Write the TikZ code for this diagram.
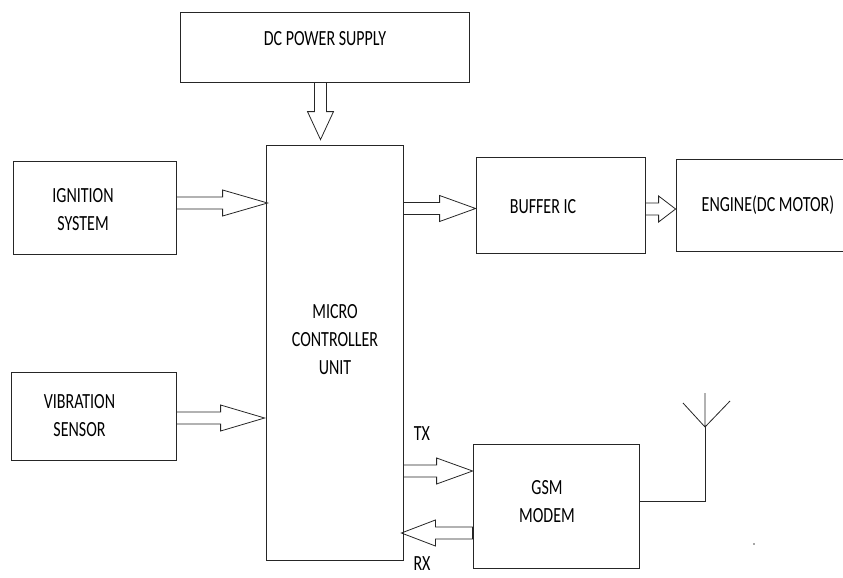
\documentclass[tikz,border=0pt]{standalone}
\usepackage{fontspec}
\setmainfont{Carlito}
\usepackage{graphicx}
\usetikzlibrary{positioning, calc}

\newcommand{\tall}[1]{\scalebox{1}[1.35]{#1}}
% hollow block arrow, head length in optional arg
\newcommand{\blockarrow}[3][40]{%
  \draw[blockarr] let \p1=(#2), \p2=(#3),
    \n1={veclen(\x2-\x1,\y2-\y1)}, \n2={atan2(\y2-\y1,\x2-\x1)} in
    [shift={(\p1)}, rotate=\n2]
    (0pt,6pt) -- (\n1-#1pt,6pt) -- (\n1-#1pt,13pt) -- (\n1,0pt)
    -- (\n1-#1pt,-13pt) -- (\n1-#1pt,-6pt) -- (0pt,-6pt) -- cycle;
}

\begin{document}
\begin{tikzpicture}[x=1pt, y=-1pt,
  blk/.style={draw=black!85, line width=0.8pt},
  txt/.style={font=\fontsize{16}{28}\selectfont, align=center, inner sep=0pt, text=black},
  blockarr/.style={draw=black!85, line width=0.8pt, line join=miter},
  wire/.style={draw=black!85, line width=0.8pt}]
  \useasboundingbox (0,0) rectangle (843,578);
  \clip (0,0) rectangle (843,578);

  % blocks
  \node[blk, minimum width=289pt, minimum height=70pt] (power) at (324.5,47) {};
  \node[blk, minimum width=163pt, minimum height=93pt] (ign) at (94.5,207.5) {};
  \node[blk, minimum width=165pt, minimum height=88pt] (vib) at (93.5,416) {};
  \node[blk, minimum width=137pt, minimum height=415pt] (mcu) at (334.5,352.5) {};
  \node[blk, minimum width=169pt, minimum height=96pt] (buf) at (560.5,205) {};
  \node[blk, minimum width=184pt, minimum height=92pt] (eng) at (768,205) {};
  \node[blk, minimum width=166pt, minimum height=124pt] (gsm) at (556,506) {};

  % texts
  \node[txt] (powertext) at ($(power)+(0.5,-8)$) {\tall{DC POWER SUPPLY}};
  \node[txt] (igntext) at ($(ign)+(-11.5,2.5)$) {\tall{IGNITION}\\\tall{SYSTEM}};
  \node[txt] (vibtext) at ($(vib)+(-14,0)$) {\tall{VIBRATION}\\\tall{SENSOR}};
  \node[txt] (mcutext) at ($(mcu)+(0.5,-12.5)$) {\tall{MICRO}\\\tall{CONTROLLER}\\\tall{UNIT}};
  \node[txt] (buftext) at ($(buf)+(-17.5,2)$) {\tall{BUFFER IC}};
  \node[txt] (engtext) at (eng) {\tall{ENGINE(DC MOTOR)}};
  \node[txt] (gsmtext) at ($(gsm)+(-9,-4.5)$) {\tall{GSM}\\\tall{MODEM}};
  \node[txt] (tx) at (422,434) {\tall{TX}};
  \node[txt] (rx) at (422,564) {\tall{RX}};

  % block arrows
  \blockarrow[28]{$(power.south)+(-4,0)$}{$(mcu.north)+(-14,-5)$}
  \blockarrow[45]{$(ign.east)+(0,-4.5)$}{$(ign.east -| mcu.west)+(2,-4.5)$}
  \blockarrow[44]{$(vib.east)+(0,2)$}{$(vib.east -| mcu.west)+(-1,2)$}
  \blockarrow[36]{$(mcu.east |- buf.west)+(0,3.5)$}{$(buf.west)+(0,3.5)$}
  \blockarrow[17]{$(buf.east)+(0,4)$}{$(eng.west)+(0,4)$}
  \blockarrow[36]{$(mcu.east |- gsm.west)+(0,-35)$}{$(gsm.west)+(0,-35)$}
  \blockarrow[34]{$(gsm.west)+(0,27)$}{$(gsm.west -| mcu.east)+(-2,27)$}

  % antenna
  \coordinate (feed) at (705,427);
  \draw[wire] ($(gsm.east)+(0,-5)$) -| (feed);
  \draw[wire] (feed) -- ++(0,-34) (feed) -- ++(-22,-24) (feed) -- ++(25,-26);
  \fill[black!70] (754,544) circle (0.9pt);
\end{tikzpicture}
\end{document}
